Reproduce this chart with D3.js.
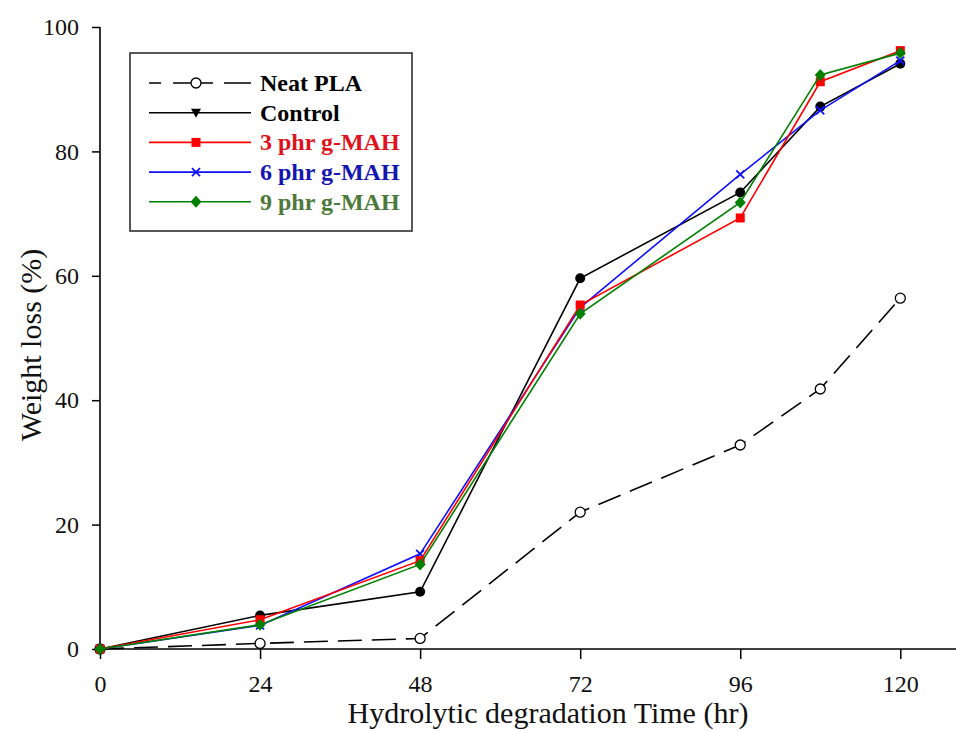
<!DOCTYPE html>
<html><head><meta charset="utf-8">
<script src="https://cdn.jsdelivr.net/npm/d3@7"></script>
<style>body{margin:0;background:#fff}svg{display:block}text{font-family:"Liberation Serif","Times New Roman",serif}</style>
</head><body><svg id="c" width="956" height="731"></svg>
<script>
const times = [0, 24, 48, 72, 96, 108, 120];
const neatPLA = [0, 0.9, 1.7, 22.0, 32.8, 41.8, 56.4];
const control = [0, 5.4, 9.2, 59.6, 73.4, 87.2, 94.1];
const mah3 = [0, 4.7, 14.2, 55.3, 69.3, 91.2, 96.2];
const mah6 = [0, 3.8, 15.3, 54.9, 76.3, 86.6, 94.6];
const mah9 = [0, 3.9, 13.6, 53.9, 71.8, 92.3, 95.8];
const xTicks = [0, 24, 48, 72, 96, 120];
const yTicks = [0, 20, 40, 60, 80, 100];
const seriesNames = ["Neat PLA", "Control", "3 phr g-MAH", "6 phr g-MAH", "9 phr g-MAH"];

const series = [
  {name: seriesNames[0], vals: neatPLA, line: "#000", text: "#000", marker: "circleOpen", dash: "24,10", legendMarker: "circleOpen"},
  {name: seriesNames[1], vals: control, line: "#000", text: "#000", marker: "circle", dash: null, legendMarker: "triangleDown"},
  {name: seriesNames[2], vals: mah3, line: "#ff0000", text: "#e0121c", marker: "square", dash: null, legendMarker: "square"},
  {name: seriesNames[3], vals: mah6, line: "#1010ff", text: "#1515b0", marker: "cross", dash: null, legendMarker: "cross"},
  {name: seriesNames[4], vals: mah9, line: "#008000", text: "#4d7a3a", marker: "diamond", dash: null, legendMarker: "diamond"}
];

const svg = d3.select("#c");
const x = d3.scaleLinear().domain([0, 128.5]).range([100, 957]);
const y = d3.scaleLinear().domain([0, 100]).range([649, 27]);

// axes
const xa = svg.append("g").attr("transform", "translate(0,649)")
  .call(d3.axisBottom(x).tickValues(xTicks).tickSize(10).tickPadding(16).tickFormat(d3.format("d")));
const ya = svg.append("g").attr("transform", "translate(100,0)")
  .call(d3.axisLeft(y).tickValues(yTicks).tickSize(8).tickPadding(13).tickFormat(d3.format("d")));
[xa, ya].forEach(a => {
  a.select(".domain").attr("stroke", "#000").attr("stroke-width", 1.6);
  a.selectAll(".tick line").attr("stroke", "#000").attr("stroke-width", 1.5);
  a.selectAll(".tick text").attr("font-size", 24).attr("fill", "#111")
    .style("font-family", '"Liberation Serif",serif');
});
xa.select(".domain").attr("d", "M100,0H957");
ya.select(".domain").attr("d", "M0,649V27");

svg.append("text").attr("x", 548).attr("y", 723).attr("text-anchor", "middle")
  .attr("font-size", 30).attr("fill", "#111").text("Hydrolytic degradation Time (hr)");
svg.append("text").attr("transform", "translate(41,345) rotate(-90)").attr("text-anchor", "middle")
  .attr("font-size", 30).attr("fill", "#111").text("Weight loss (%)");

function drawMarker(g, type, cx, cy, color) {
  if (type === "circleOpen") {
    g.append("circle").attr("cx", cx).attr("cy", cy).attr("r", 5).attr("fill", "#fff").attr("stroke", "#000").attr("stroke-width", 1.3);
  } else if (type === "circle") {
    g.append("circle").attr("cx", cx).attr("cy", cy).attr("r", 5).attr("fill", color);
  } else if (type === "square") {
    g.append("rect").attr("x", cx - 4.5).attr("y", cy - 4.5).attr("width", 9).attr("height", 9).attr("fill", color);
  } else if (type === "cross") {
    g.append("path").attr("d", `M${cx-4},${cy-4}L${cx+4},${cy+4}M${cx-4},${cy+4}L${cx+4},${cy-4}`).attr("stroke", color).attr("stroke-width", 1.8);
  } else if (type === "diamond") {
    g.append("path").attr("d", `M${cx},${cy-6}L${cx+5.5},${cy}L${cx},${cy+6}L${cx-5.5},${cy}Z`).attr("fill", color);
  } else if (type === "triangleDown") {
    g.append("path").attr("d", `M${cx-5},${cy-4}L${cx+5},${cy-4}L${cx},${cy+5}Z`).attr("fill", color);
  }
}

const line = d3.line().x((d, i) => x(times[i])).y(d => y(d));
// draw order: neat, control, 6, 3, 9
const order = [0, 1, 3, 2, 4];
order.forEach(k => {
  const s = series[k];
  const g = svg.append("g");
  g.append("path").datum(s.vals).attr("d", line).attr("fill", "none")
    .attr("stroke", s.line).attr("stroke-width", 1.6)
    .attr("stroke-dasharray", s.dash);
  s.vals.forEach((v, i) => drawMarker(g, s.marker, x(times[i]), y(v), s.line));
});

// legend
const lg = svg.append("g");
lg.append("rect").attr("x", 130).attr("y", 53).attr("width", 282).attr("height", 178)
  .attr("fill", "#fff").attr("stroke", "#222").attr("stroke-width", 1.5);
series.forEach((s, i) => {
  const yy = 83 + i * 29.7;
  lg.append("line").attr("x1", 149).attr("x2", 251).attr("y1", yy).attr("y2", yy)
    .attr("stroke", s.line).attr("stroke-width", 1.6)
    .attr("stroke-dasharray", s.dash ? "12,12,40,11,40" : null);
  drawMarker(lg, s.legendMarker, 196, yy, s.line);
  lg.append("text").attr("x", 260).attr("y", yy + 8).attr("font-size", 24).attr("font-weight", "bold")
    .attr("fill", s.text).text(s.name);
});
</script></body></html>
